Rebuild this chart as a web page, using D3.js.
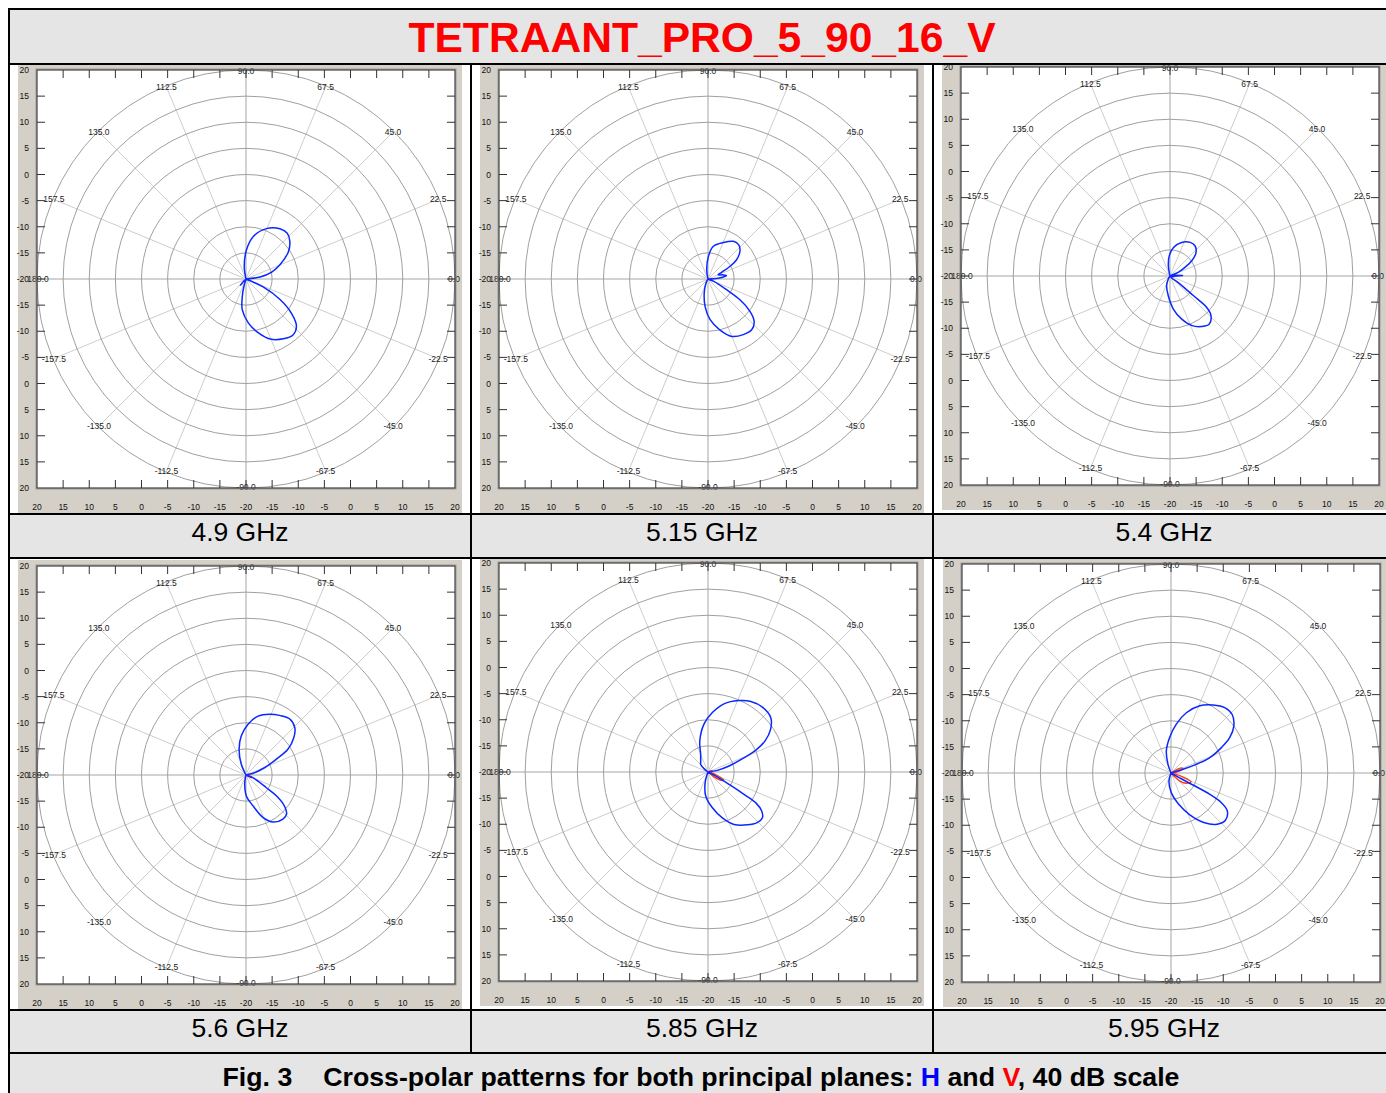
<!DOCTYPE html>
<html><head><meta charset="utf-8">
<script src="https://cdn.jsdelivr.net/npm/d3@7"></script>
<style>html,body{margin:0;padding:0;background:#fff;overflow:hidden}</style>
</head><body>
<svg id="chart" width="1386" height="1093"></svg>
<script>
// ---------------- data ----------------
const titleText = "TETRAANT_PRO_5_90_16_V";
const frequencies = ["4.9 GHz","5.15 GHz","5.4 GHz","5.6 GHz","5.85 GHz","5.95 GHz"];
const scaleTickLabels = ["20","15","10","5","0","-5","-10","-15","-20","-15","-10","-5","0","5","10","15","20"];
const ringValues = [-15,-10,-5,0,5,10,15,20];
const spokeAngles = [0,22.5,45,67.5,90,112.5,135,157.5,180,-157.5,-135,-112.5,-90,-67.5,-45,-22.5];
const spokeLabels = ["0.0","22.5","45.0","67.5","90.0","112.5","135.0","157.5","180.0","-157.5","-135.0","-112.5","-90.0","-67.5","-45.0","-22.5"];

// H plane (blue), angle in degrees, level in dB
const h49Ang = [-132,-122,-107,-102,-97,-87,-77,-68,-58,-50,-43,-37,-31,-25,-12,0,8,15,23,33,41,48,56,68,80,89,98,106];
const h49Db  = [-18.3,-20,-18.9,-16.6,-14.1,-11.6,-9.4,-7.6,-6.5,-6.0,-6.8,-9.1,-12.4,-16.3,-20,-20,-17.3,-14.9,-12.9,-10.3,-8.9,-8.2,-8.4,-9.6,-11.7,-14.4,-17.6,-20];
const h515Ang = [-125,-116,-105,-96,-87,-77,-67.5,-57.6,-49,-42.6,-37.6,-33,-30,-22,-10,0,4,11,16,22.7,26,30,34,41,48,56,67,81,89,98,108];
const h515Db  = [-20,-19.1,-17.2,-14.7,-12.2,-10.0,-8.1,-7.4,-7.2,-8.0,-9.9,-12.7,-15.9,-18.8,-20,-20,-18.1,-16.4,-17.1,-17.9,-17.1,-15.1,-13.4,-11.9,-11.2,-11.3,-12.4,-13.7,-15.7,-18.2,-20];
const h54Ang = [-128,-120,-109,-95,-84,-75,-66,-58,-51,-44,-40.5,-40,-38.5,-20,2,8,24,30,35,42,50.5,59,71,83,92,99,108];
const h54Db  = [-20,-19.3,-18.0,-16.2,-13.6,-11.5,-9.6,-8.6,-8.1,-9.1,-10.8,-14.2,-17.6,-20,-17.6,-20,-18.3,-16.7,-14.9,-13.3,-12.5,-12.5,-13.2,-14.5,-16.1,-18.0,-20];
const h56Ang = [-112,-104,-98,-89,-77,-68,-60,-50,-44,-39,-35,-32,-21,0,13.6,21.4,27.4,31.5,38,44,52,60.6,68.7,78.5,87.7,97,105,113.7,122];
const h56Db  = [-20,-19.5,-18.2,-16.0,-13.9,-11.2,-9.6,-9.0,-9.2,-10.5,-12.5,-15.4,-18.6,-20,-18.6,-16.2,-13.5,-10.6,-8.4,-7.0,-6.4,-6.9,-7.5,-8.5,-10.3,-12.5,-14.9,-17.8,-20];
const h585Ang = [-115,-108,-104,-95.5,-83,-72.6,-63.6,-53.4,-45.8,-40,-36,-32.8,-31.8,-30.4,-27.5,-10,0,10,16,21,24.5,28.5,34.3,41,50,58.7,66.6,76.8,85.8,94.8,105,112.4,124,134,140,160];
const h585Db  = [-20,-18.9,-17.6,-15.4,-13.1,-10.8,-8.8,-7.4,-6.5,-6.4,-7.3,-9.1,-11.9,-15.3,-18.3,-20,-20,-18.2,-15.8,-13.0,-10.0,-7.6,-5.5,-4.1,-3.8,-4.2,-5.1,-6.6,-8.6,-10.8,-13.9,-16.3,-17.5,-18.0,-19.0,-20];
const h595Ang = [-115,-104,-89,-77,-66,-56,-48,-41,-34,-30.5,-28.8,-28.6,-30,-10,0,17,19,21.6,26.7,31,36.7,43.7,50.6,58.3,66.8,75.7,83.8,92.2,102,109,118];
const h595Db  = [-20,-18.4,-16.2,-14.0,-11.3,-8.5,-6.8,-6.2,-7.0,-8.8,-11.5,-15.2,-18.8,-20,-20,-17.6,-14.9,-12.0,-9.2,-6.9,-5.0,-3.8,-3.8,-4.7,-6.0,-8.1,-10.6,-13.2,-15.7,-18.2,-20];

// V plane (red)
const v49Ang = [-40,-25,-10,5];   const v49Db = [-20,-19.4,-19.6,-20];
const v515Ang = [-40,-25,-10,5];  const v515Db = [-20,-19.4,-19.6,-20];
const v54Ang = [-40,-25,-10,5];   const v54Db = [-20,-19.4,-19.6,-20];
const v56Ang = [-40,-28,-18,-5];  const v56Db = [-20,-18.8,-19.2,-20];
const v585Ang = [-50,-38,-32,-27,-21,-12,0,12,20,30];
const v585Db  = [-20,-18.5,-17.0,-16.6,-18.0,-19.4,-20,-19.3,-19.2,-20];
const v595Ang = [-60,-48,-42,-34,-24,-19,-12,0,8,15,22,30,40];
const v595Db  = [-20,-19.2,-17.7,-16.5,-15.8,-17.3,-19.4,-20,-19.0,-18.0,-17.6,-18.4,-20];

const hSeries = [[h49Ang,h49Db],[h515Ang,h515Db],[h54Ang,h54Db],[h56Ang,h56Db],[h585Ang,h585Db],[h595Ang,h595Db]];
const vSeries = [[v49Ang,v49Db],[v515Ang,v515Db],[v54Ang,v54Db],[v56Ang,v56Db],[v585Ang,v585Db],[v595Ang,v595Db]];

// ---------------- layout ----------------
const FONT = "'Liberation Sans', Arial, Helvetica, sans-serif";
const colX = [9, 471, 933];
const colW = 462;
const rowsImg = [[65, 513], [559, 1009]];
const centers = [[246,279],[708,279],[1170,276],[246,775],[708,772],[1171,773]];
const R = 209;

const svg = d3.select("#chart");

// table backgrounds
svg.append("rect").attr("x",9).attr("y",9).attr("width",1386).attr("height",54).attr("fill","#e5e5e5");
svg.append("rect").attr("x",9).attr("y",514).attr("width",1386).attr("height",44).attr("fill","#e5e5e5");
svg.append("rect").attr("x",9).attr("y",1010).attr("width",1386).attr("height",43).attr("fill","#e5e5e5");
svg.append("rect").attr("x",9).attr("y",1053).attr("width",1386).attr("height",60).attr("fill","#e5e5e5");

const rScale = d3.scaleLinear().domain([-20,20]).range([0,R]);
const radial = d3.lineRadial()
  .angle(d => (90 - d[0]) * Math.PI / 180)
  .radius(d => rScale(Math.max(-20, d[1])))
  .curve(d3.curveCatmullRom.alpha(0.5));

centers.forEach((c, i) => {
  const [cx, cy] = c;
  const row = rowsImg[Math.floor(i/3)];
  const gTop = Math.max(row[0], cy - 215), gBot = Math.min(row[1], cy + 234);
  const g = svg.append("g");
  // grey panel
  g.append("rect").attr("x", cx-228).attr("y", gTop).attr("width", 444).attr("height", gBot-gTop).attr("fill", "#d4d0c8");
  // plot area
  g.append("rect").attr("x", cx-R).attr("y", cy-R).attr("width", 2*R).attr("height", 2*R).attr("fill", "#fff");

  const p = g.append("g").attr("transform", `translate(${cx},${cy})`);
  // spokes
  spokeAngles.forEach(a => {
    const main = (a % 90 === 0);
    const t = a * Math.PI / 180;
    p.append("line").attr("x1",0).attr("y1",0)
      .attr("x2", rScale(20)*Math.cos(t)).attr("y2", -rScale(20)*Math.sin(t))
      .attr("stroke", main ? "#d2d2d2" : "#cdcdcd").attr("stroke-width", main ? 2 : 1);
  });
  // rings
  ringValues.forEach(v => {
    p.append("circle").attr("r", rScale(v)).attr("fill","none").attr("stroke","#a0a0a0").attr("stroke-width",1);
  });
  // spoke labels
  spokeAngles.forEach((a, k) => {
    const t = a * Math.PI / 180;
    p.append("text").attr("x", (R-1)*Math.cos(t)).attr("y", -(R-1)*Math.sin(t))
      .attr("text-anchor","middle").attr("dominant-baseline","central")
      .attr("font-family", FONT).attr("font-size", 8.5).attr("fill","#222").text(spokeLabels[k]);
  });
  // V series
  const [va, vd] = vSeries[i];
  p.append("path").attr("d", radial(va.map((a,k)=>[a, vd[k]]))).attr("fill","none")
    .attr("stroke","#ff3c10").attr("stroke-width",1.4);
  // H series
  const [ha, hd] = hSeries[i];
  p.append("path").attr("d", radial(ha.map((a,k)=>[a, hd[k]]))).attr("fill","none")
    .attr("stroke","#0a28ff").attr("stroke-width",1.5).attr("stroke-linejoin","round");

  // frame
  g.append("rect").attr("x", cx-R-1).attr("y", cy-R-1).attr("width", 2*R+2).attr("height", 2*R+2)
    .attr("fill","none").attr("stroke","#9a9a9a").attr("stroke-width",1);
  g.append("rect").attr("x", cx-R).attr("y", cy-R).attr("width", 2*R).attr("height", 2*R)
    .attr("fill","none").attr("stroke","#404040").attr("stroke-width",1.2);

  // ticks & labels
  const pos = d3.scalePoint().domain(d3.range(scaleTickLabels.length)).range([-R, R]);
  d3.range(1, scaleTickLabels.length-1).forEach(k => {
    const o = pos(k);
    g.append("line").attr("x1", cx+o).attr("x2", cx+o).attr("y1", cy-R).attr("y2", cy-R+8).attr("stroke","#333");
    g.append("line").attr("x1", cx+o).attr("x2", cx+o).attr("y1", cy+R).attr("y2", cy+R-8).attr("stroke","#333");
    g.append("line").attr("y1", cy+o).attr("y2", cy+o).attr("x1", cx-R).attr("x2", cx-R+8).attr("stroke","#333");
    g.append("line").attr("y1", cy+o).attr("y2", cy+o).attr("x1", cx+R).attr("x2", cx+R-8).attr("stroke","#333");
  });
  scaleTickLabels.forEach((lab, k) => {
    const o = pos(k);
    g.append("text").attr("x", cx-R-8).attr("y", cy+o).attr("text-anchor","end").attr("dominant-baseline","central")
      .attr("font-family", FONT).attr("font-size", 8.5).attr("fill","#111").text(lab);
    g.append("text").attr("x", cx+o).attr("y", cy+228).attr("text-anchor","middle").attr("dominant-baseline","central")
      .attr("font-family", FONT).attr("font-size", 8.5).attr("fill","#111").text(lab);
  });

  // frequency label
  svg.append("text").attr("x", colX[i%3] + colW/2).attr("y", (i<3 ? 540.5 : 1036.5))
    .attr("text-anchor","middle").attr("font-family", FONT).attr("font-size", 26.5).attr("fill","#000")
    .text(frequencies[i]);
});

// title
svg.append("text").attr("x", 702).attr("y", 52).attr("text-anchor","middle")
  .attr("font-family", FONT).attr("font-weight","bold").attr("font-size", 42.6).attr("fill","#ff0000").text(titleText);

// caption
const cap = svg.append("text").attr("x", 701).attr("y", 1086).attr("text-anchor","middle")
  .attr("font-family", FONT).attr("font-weight","bold").attr("font-size", 26.7).attr("fill","#000");
cap.append("tspan").text("Fig. 3");
cap.append("tspan").attr("dx", 31).text("Cross-polar patterns for both principal planes: ");
cap.append("tspan").attr("fill","#0000ff").text("H");
cap.append("tspan").text(" and ");
cap.append("tspan").attr("fill","#ff0000").text("V");
cap.append("tspan").text(", 40 dB scale");

// table borders
const hLines = [9, 64, 514, 558, 1010, 1053];
hLines.forEach(y => svg.append("line").attr("x1",8).attr("x2",1396).attr("y1",y).attr("y2",y).attr("stroke","#000").attr("stroke-width",2));
[9, 471, 933, 1395].forEach(x => {
  const y2 = (x === 9 || x === 1395) ? 1093 : 1053;
  const y1 = (x === 9 || x === 1395) ? 8 : 64;
  svg.append("line").attr("x1",x).attr("x2",x).attr("y1",y1).attr("y2",y2).attr("stroke","#000").attr("stroke-width",2);
});
</script>
</body></html>
